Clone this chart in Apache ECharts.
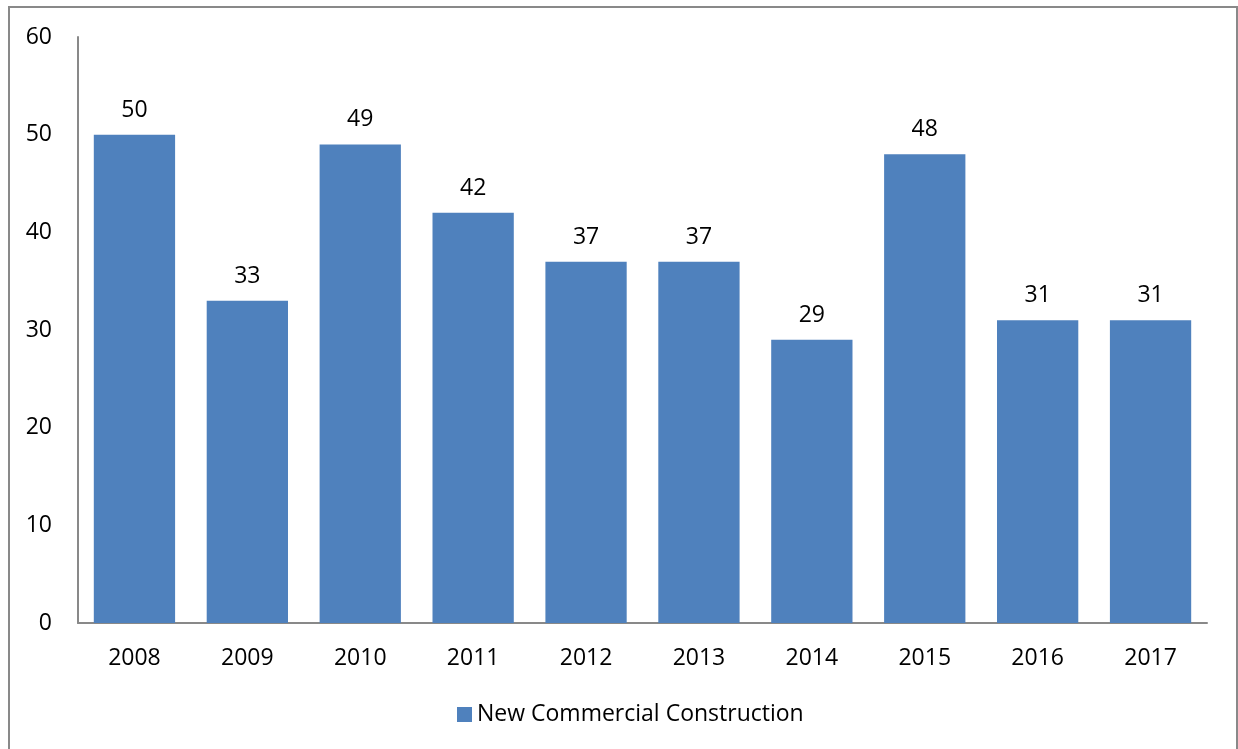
<!DOCTYPE html>
<html>
<head>
<meta charset="utf-8">
<script src="https://cdn.jsdelivr.net/npm/echarts@6/dist/echarts.min.js"></script>
<style>
html,body{margin:0;padding:0;background:#fff;}
#chart{width:1238px;height:749px;}
</style>
</head>
<body>
<div id="chart"></div>
<script>
const categories = ['2008','2009','2010','2011','2012','2013','2014','2015','2016','2017'];
const values = [50,33,49,42,37,37,29,48,31,31];
const seriesName = 'New Commercial Construction';
const FONT = 'Open Sans';

const chart = echarts.init(document.getElementById('chart'));
chart.setOption({
  animation: false,
  backgroundColor: '#fff',
  graphic: [{
    type: 'rect',
    shape: {x: 9, y: 7, width: 1228, height: 780},
    style: {fill: 'none', stroke: '#898989', lineWidth: 2},
    silent: true
  }],
  grid: {left: 78, right: 31, top: 37, bottom: 126, containLabel: false},
  legend: {
    top: 698,
    left: 452,
    icon: 'rect',
    itemWidth: 15,
    itemHeight: 15,
    itemGap: 7,
    textStyle: {fontFamily: FONT, fontSize: 23, color: '#000', padding: [0,0,0,0]},
    data: [seriesName]
  },
  xAxis: {
    type: 'category',
    data: categories,
    axisLine: {lineStyle: {color: '#898989', width: 2}},
    axisTick: {show: false},
    axisLabel: {fontFamily: FONT, fontSize: 23, color: '#000', margin: 24}
  },
  yAxis: {
    type: 'value',
    min: 0, max: 60, interval: 10,
    axisLine: {show: true, lineStyle: {color: '#898989', width: 2}},
    axisTick: {show: false},
    splitLine: {show: false},
    axisLabel: {fontFamily: FONT, fontSize: 23, color: '#000', margin: 26}
  },
  series: [{
    name: seriesName,
    type: 'bar',
    data: values,
    barCategoryGap: '28%',
    itemStyle: {color: '#4F81BD'},
    label: {show: true, position: 'top', distance: 13, fontFamily: FONT, fontSize: 23, color: '#000'}
  }]
});
</script>
</body>
</html>
